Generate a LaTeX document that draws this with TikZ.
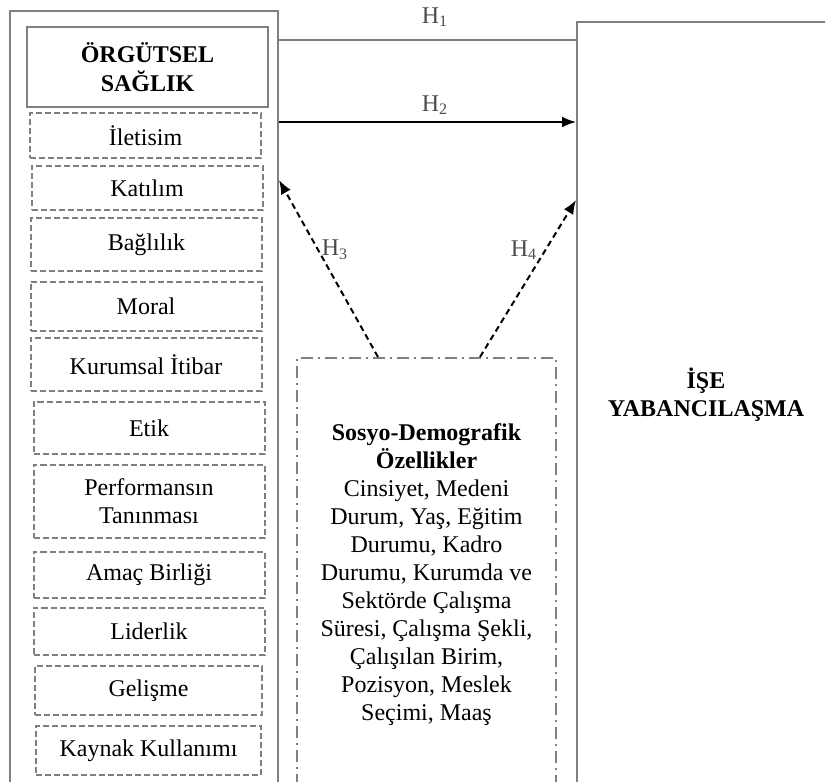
\documentclass[tikz,border=0pt]{standalone}
\usepackage{fontspec}
\setmainfont{Liberation Serif}
\usetikzlibrary{arrows.meta}

\tikzset{
	kutu/.style={draw=gray, line width=1pt, inner sep=0pt},
	baslikkutu/.style={draw=gray, line width=1pt, inner sep=0pt, align=center, font=\fontsize{12}{14.5}\selectfont\bfseries},
	boyutkutu/.style={draw=gray, line width=1pt, dash pattern=on 3pt off 1.5pt, minimum width=115.5pt, inner sep=0pt, align=center},
	demokutu/.style={draw=gray, line width=1pt, dash pattern=on 6pt off 2.5pt on 1pt off 2.5pt, inner sep=0pt, align=center},
	hipotez/.style={text=black!70, inner sep=1pt},
	ok/.style={-{Latex[length=7pt,width=5.5pt]}, line width=1pt},
}

\begin{document}
\begin{tikzpicture}[x=0.5pt, y=-0.5pt, font=\fontsize{12}{14}\selectfont]
		\clip (0,0) rectangle (825,782);
		
		% ana kutular
		\node[kutu, minimum width=134pt, minimum height=394.5pt] (orgut) at (144,405.5) {};
		\node[kutu, minimum width=136.5pt, minimum height=389pt] (yaban) at (713.5,411) {};
		\node[align=center, font=\fontsize{12}{14}\selectfont\bfseries] (yabanyazi) at (706,395) {İŞE\\YABANCILAŞMA};
		
		\node[baslikkutu, minimum width=120.5pt, minimum height=40pt] (baslik) at (147.5,67) {ÖRGÜTSEL\\SAĞLIK};
		
		% boyutlar
		\node[boyutkutu, minimum height=22.5pt] (iletisim) at (145.5,135.5) {İletisim};
		\node[boyutkutu, minimum height=22pt] (katilim) at (147,188) {Katılım};
		\node[boyutkutu, minimum height=26.5pt] (baglilik) at (146.5,244.5) {Bağlılık};
		\node[boyutkutu, minimum height=24.5pt] (moral) at (146,306.5) {Moral};
		\node[boyutkutu, minimum height=26.5pt] (itibar) at (146,364.5) {Kurumsal İtibar};
		\node[boyutkutu, minimum height=26pt] (etik) at (149,428) {Etik};
		\node[boyutkutu, minimum height=36.5pt] (performans) at (149,501.5) {Performansın\\Tanınması};
		\node[boyutkutu, minimum height=23pt] (amac) at (149,575) {Amaç Birliği};
		\node[boyutkutu, minimum height=23.5pt] (liderlik) at (149,631.5) {Liderlik};
		\node[boyutkutu, minimum height=24.5pt, minimum width=113.5pt] (gelisme) at (148.5,690.5) {Gelişme};
		\node[boyutkutu, minimum height=24.5pt, minimum width=112.5pt] (kaynak) at (148.5,750.5) {Kaynak Kullanımı};
		
		% sosyo-demografik
		\node[demokutu, minimum width=129.5pt, minimum height=217pt] (demo) at (426.5,575) {\textbf{Sosyo-Demografik}\\\textbf{Özellikler}\\Cinsiyet, Medeni\\Durum, Yaş, Eğitim\\Durumu, Kadro\\Durumu, Kurumda ve\\Sektörde Çalışma\\Süresi, Çalışma Şekli,\\Çalışılan Birim,\\Pozisyon, Meslek\\Seçimi, Maaş};
		
		% hipotezler
		\coordinate (h1) at (427,40);
		\coordinate (h2) at (427,122);
		\coordinate (h3) at (0,180);
		\coordinate (h4) at (0,200);
		\draw[gray, line width=1pt] (orgut.east |- h1) -- (yaban.west |- h1);
		\draw[ok] (orgut.east |- h2) -- (yaban.west |- h2);
		\draw[ok, dash pattern=on 3pt off 2pt] ([xshift=-24.25pt]demo.north) -- (orgut.east |- h3);
		\draw[ok, dash pattern=on 3pt off 2pt] ([xshift=26.75pt]demo.north) -- (yaban.west |- h4);
		
		\node[hipotez] (etiket1) at (435,17) {H\textsubscript{1}};
		\node[hipotez] (etiket2) at (435,105) {H\textsubscript{2}};
		\node[hipotez] (etiket3) at (335,250) {H\textsubscript{3}};
		\node[hipotez] (etiket4) at (524,250) {H\textsubscript{4}};
\end{tikzpicture}
\end{document}
